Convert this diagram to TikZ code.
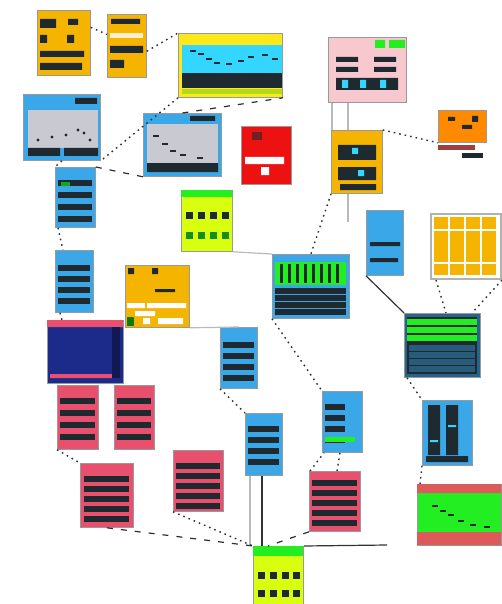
\documentclass[tikz,border=0pt]{standalone}
\usetikzlibrary{positioning}
\definecolor{amber}{HTML}{F5B400}
\definecolor{sky}{HTML}{3AA8E8}
\definecolor{aqua}{HTML}{33D6FF}
\definecolor{lemon}{HTML}{FFE81A}
\definecolor{lime}{HTML}{D8FF10}
\definecolor{leaf}{HTML}{22EE22}
\definecolor{rose}{HTML}{E8506E}
\definecolor{blush}{HTML}{F8C8CF}
\definecolor{navy}{HTML}{1C2A8A}
\definecolor{tangerine}{HTML}{FF8A00}
\definecolor{scarlet}{HTML}{EE1111}
\definecolor{ink}{HTML}{1E2A30}
\definecolor{slate}{HTML}{C9C9D2}
\definecolor{salmon}{HTML}{DD5A5A}
% rows of dark bars inside a screen: x, y, width, count, step, colour
\newcommand{\screenrows}[6]{%
  \foreach \i in {1,...,#4} \fill[#6] (#1,{#2+(\i-1)*#5}) rectangle ++(#3,6);}
\begin{document}
\begin{tikzpicture}[x=1pt,y=-1pt,
  thumb/.style={draw=gray!80, line width=0.8pt, inner sep=0pt, anchor=north west},
  link/.style={line width=1.4pt, gray!35!black, dash pattern=on 1.6pt off 4pt},
  dashlink/.style={line width=1.2pt, gray!35!black, dash pattern=on 6pt off 8pt},
  wire/.style={line width=1.2pt, gray!55}]
\useasboundingbox (0,0) rectangle (501,604);

% screens
\node[thumb, fill=amber, minimum width=53pt, minimum height=65pt] (menu) at (37,10) {};
\node[thumb, fill=amber, minimum width=39pt, minimum height=63pt] (options) at (107,14) {};
\node[thumb, fill=lemon, minimum width=104pt, minimum height=64pt] (chart) at (178,33) {};
\node[thumb, fill=sky, minimum width=77pt, minimum height=66pt] (plotA) at (23,94) {};
\node[thumb, fill=sky, minimum width=78pt, minimum height=63pt] (plotB) at (143,113) {};
\node[thumb, fill=scarlet, minimum width=50pt, minimum height=58pt] (alert) at (241,126) {};
\node[thumb, fill=blush, minimum width=78pt, minimum height=65pt] (mixer) at (328,37) {};
\node[thumb, fill=amber, minimum width=51pt, minimum height=63pt] (panel) at (331,130) {};
\node[thumb, fill=tangerine, minimum width=48pt, minimum height=32pt] (scope) at (438,110) {};
\node[thumb, fill=sky, minimum width=40pt, minimum height=60pt] (listA) at (55,167) {};
\node[thumb, fill=lime, minimum width=51pt, minimum height=61pt] (keypadA) at (181,190) {};
\node[thumb, fill=sky, minimum width=38pt, minimum height=62pt] (listB) at (55,250) {};
\node[thumb, fill=amber, minimum width=64pt, minimum height=62pt] (form) at (125,265) {};
\node[thumb, fill=navy, minimum width=76pt, minimum height=63pt] (editor) at (47,320) {};
\node[thumb, fill=sky, minimum width=37pt, minimum height=61pt] (listC) at (220,327) {};
\node[thumb, fill=sky, minimum width=77pt, minimum height=64pt] (seqA) at (272,254) {};
\node[thumb, fill=sky, minimum width=37pt, minimum height=65pt] (pick) at (366,210) {};
\node[thumb, fill=white, draw=gray!60, line width=2pt, minimum width=70pt, minimum height=65pt] (grid) at (430,213) {};
\node[thumb, fill=sky!60!black, minimum width=76pt, minimum height=64pt] (seqB) at (404,313) {};
\node[thumb, fill=rose, minimum width=41pt, minimum height=64pt] (menuR1) at (57,385) {};
\node[thumb, fill=rose, minimum width=40pt, minimum height=64pt] (menuR2) at (114,385) {};
\node[thumb, fill=rose, minimum width=53pt, minimum height=64pt] (menuR3) at (80,463) {};
\node[thumb, fill=rose, minimum width=50pt, minimum height=61pt] (menuR4) at (173,450) {};
\node[thumb, fill=sky, minimum width=37pt, minimum height=62pt] (listD) at (245,413) {};
\node[thumb, fill=sky, minimum width=40pt, minimum height=61pt] (listE) at (322,391) {};
\node[thumb, fill=rose, minimum width=51pt, minimum height=60pt] (menuR5) at (309,471) {};
\node[thumb, fill=sky, minimum width=50pt, minimum height=65pt] (meter) at (422,400) {};
\node[thumb, fill=leaf, minimum width=84pt, minimum height=61pt] (graph) at (417,484) {};
\node[thumb, fill=lime, minimum width=50pt, minimum height=58pt] (keypadB) at (253,546) {};
\coordinate (panelTail) at (348,222);
\coordinate (keypadTail) at (387,545);

% screen contents
\fill[ink] (40,19) rectangle (56,28) (68,19) rectangle (78,25) (40,35) rectangle (47,43)
  (67,35) rectangle (74,43) (40,51) rectangle (84,57) (40,63) rectangle (82,70);
\fill[ink] (111,19) rectangle (140,24) (110,46) rectangle (143,53) (110,60) rectangle (124,68);
\fill[white!80!amber] (110,33) rectangle (143,38);
\fill[aqua] (182,45) rectangle (282,73);
\fill[ink] (182,73) rectangle (282,88);
\fill[yellow!70!green] (182,89) rectangle (282,94);
\foreach \px/\py in {190/50,198/53,206/58,214/62,226/63,238/60,248/56,262/54,272/58}
  \fill[ink] (\px,\py) rectangle ++(6,2);
\fill[slate] (28,110) rectangle (98,148);
\fill[ink] (28,148) rectangle (60,156) (64,148) rectangle (98,156) (75,98) rectangle (97,104);
\foreach \px/\py in {38/140,52/137,66/135,78/130,84/133,90/140} \fill[ink] (\px,\py) circle (1.6);
\fill[slate] (147,124) rectangle (218,163);
\fill[ink] (147,163) rectangle (218,172) (190,116) rectangle (215,121);
\foreach \px/\py in {153/135,162/143,170/150,180/154,197/157} \fill[ink] (\px,\py) rectangle ++(6,2);
\fill[ink!60!scarlet] (252,132) rectangle (262,140);
\fill[white] (245,157) rectangle (284,164) (261,167) rectangle (269,175);
\fill[leaf] (375,40) rectangle (385,48) (389,40) rectangle (405,48);
\fill[ink] (336,57) rectangle (358,62) (336,67) rectangle (358,72) (374,57) rectangle (396,62)
  (374,67) rectangle (396,72) (336,78) rectangle (398,90);
\fill[aqua] (342,80) rectangle (348,88) (360,80) rectangle (366,88) (380,80) rectangle (386,88);
\fill[ink] (338,145) rectangle (376,160) (338,167) rectangle (376,180) (340,184) rectangle (376,190);
\fill[aqua] (352,148) rectangle (358,154) (358,170) rectangle (364,176);
\fill[ink] (448,117) rectangle (455,121) (462,125) rectangle (472,129) (472,116) rectangle (478,122);
\fill[salmon!70!black] (438,145) rectangle (475,150);
\fill[ink] (462,153) rectangle (483,158);
\screenrows{58}{180}{34}{4}{12}{ink}
\fill[leaf!70!black] (61,182) rectangle (70,186);
\fill[leaf] (181,190) rectangle (232,197);
\foreach \px in {186,198,210,222} {
  \fill[ink] (\px,212) rectangle ++(7,7);
  \fill[leaf!60!black] (\px,232) rectangle ++(7,7);
}
\screenrows{58}{265}{32}{4}{11}{ink}
\fill[ink] (128,268) rectangle (134,274) (152,268) rectangle (158,274) (155,289) rectangle (175,292);
\fill[white] (127,303) rectangle (145,308) (147,303) rectangle (186,308) (135,311) rectangle (155,316)
  (143,318) rectangle (150,324) (158,318) rectangle (183,324);
\fill[leaf!50!black] (127,317) rectangle (134,326);
\fill[rose] (47,320) rectangle (123,327) (50,374) rectangle (112,378);
\fill[navy!60!black] (112,327) rectangle (120,378);
\screenrows{223}{342}{31}{4}{11}{ink}
\fill[leaf] (275,262) rectangle (346,285);
\foreach \px in {280,288,296,304,312,320,328,336} \fill[ink] (\px,264) rectangle ++(3,19);
\screenrows{275}{288}{71}{4}{7}{ink}
\fill[ink] (370,242) rectangle (400,246) (370,258) rectangle (398,262);
\foreach \cx in {434,450,466,482} {
  \fill[amber] (\cx,217) rectangle ++(14,12);
  \fill[amber] (\cx,231) rectangle ++(14,31);
  \fill[amber] (\cx,264) rectangle ++(14,11);
}
\fill[ink] (407,317) rectangle (477,374);
\screenrows{407}{319}{70}{3}{8}{leaf}
\screenrows{409}{345}{66}{4}{7}{ink!60!sky}
\screenrows{60}{398}{35}{4}{12}{ink}
\screenrows{117}{398}{34}{4}{12}{ink}
\screenrows{84}{476}{45}{5}{10}{ink}
\screenrows{176}{463}{44}{5}{10}{ink}
\screenrows{312}{480}{45}{5}{10}{ink}
\screenrows{248}{426}{31}{4}{11}{ink}
\screenrows{325}{404}{20}{4}{11}{ink}
\fill[leaf] (325,437) rectangle (355,442);
\fill[ink] (428,405) rectangle (440,455) (446,405) rectangle (458,455) (426,456) rectangle (468,462);
\fill[aqua] (430,440) rectangle (438,442) (448,425) rectangle (456,427);
\fill[salmon] (417,484) rectangle (501,493) (417,532) rectangle (501,545);
\foreach \px/\py in {432/505,440/510,448/514,458/520,470/524,484/526} \fill[ink] (\px,\py) rectangle ++(6,2);
\fill[leaf] (253,546) rectangle (303,556);
\foreach \px in {258,270,282,293} {
  \fill[ink] (\px,572) rectangle ++(7,7);
  \fill[ink] (\px,590) rectangle ++(7,7);
}

% connectors
\draw[link] (menu.30) -- (options.150);
\draw[link] (options.-15) -- (chart.north west);
\draw[link] (chart.south west) -- (plotA.south east);
\draw[dashlink] (plotB.north) -- (chart.south east);
\draw[link] (plotA.south) -- (listA.north west);
\draw[dashlink] (listA.north east) -- (plotB.south west);
\draw[link] ([xshift=3pt]listA.south west) -- ([xshift=8pt]listB.north west);
\draw[link] ([xshift=5pt]listB.south west) -- ([xshift=15pt]editor.north west);
\draw[wire] (form.south east) -- (listC.north);
\draw[wire] (keypadA.south east) -- (seqA.north west);
\draw[link] (panel.south west) -- (seqA.north);
\draw[wire] ([xshift=4pt]mixer.south west) -- ([xshift=1pt]panel.north west);
\draw[wire] ([xshift=20pt]mixer.south west) -- ([xshift=17pt]panel.north west);
\draw[wire] ([xshift=17pt]panel.south west) -- (panelTail);
\draw[link] (panel.north east) -- (scope.south west);
\draw[wire, gray!40!black] (pick.south west) -- (seqB.north west);
\draw[link] ([xshift=6pt]grid.south west) -- ([xshift=42pt]seqB.north west);
\draw[link] (grid.south east) -- ([xshift=68pt]seqB.north west);
\draw[link] ([xshift=3pt]seqB.south west) -- (meter.north west);
\draw[link] (meter.south west) -- ([xshift=3pt]graph.north west);
\draw[link] (seqA.south west) -- (listE.north west);
\draw[link] (listC.south west) -- (listD.north west);
\draw[link] ([xshift=1pt]menuR5.north west) -- ([xshift=2pt]listE.south west);
\draw[link] ([xshift=28pt]menuR5.north west) -- ([xshift=18pt]listE.south west);
\draw[wire, gray!40!black] ([xshift=17pt]listD.south west) -- ([xshift=9pt]keypadB.north west);
\draw[wire] ([xshift=5pt]listD.south west) -- ([xshift=-3pt]keypadB.north west);
\draw[dashlink] (menuR3.south) -- (keypadB.north west);
\draw[link] (menuR4.south west) -- (keypadB.north west);
\draw[dashlink] (menuR5.south west) -- ([xshift=15pt]keypadB.north west);
\draw[wire, gray!40!black] (keypadB.north east) -- (keypadTail);
\draw[link] (menuR1.south west) -- (menuR3.north west);
\end{tikzpicture}
\end{document}
